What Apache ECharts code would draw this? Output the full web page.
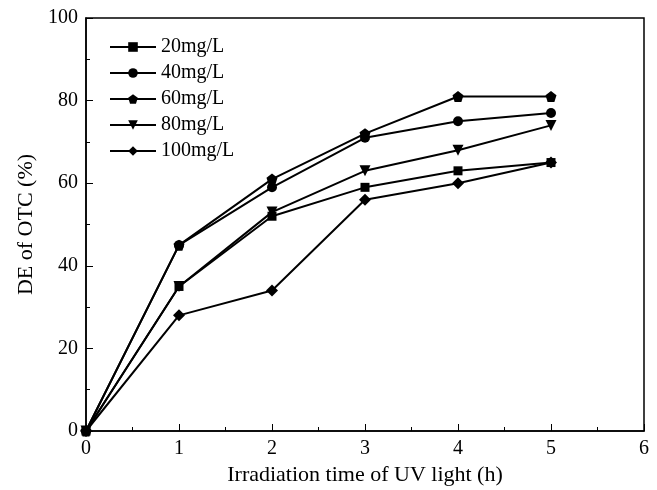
<!DOCTYPE html>
<html>
<head>
<meta charset="utf-8">
<script src="https://cdn.jsdelivr.net/npm/echarts@6/dist/echarts.min.js"></script>
<style>
  html, body { margin: 0; padding: 0; background: #fff; }
  #chart { width: 657px; height: 490px; }
</style>
</head>
<body>
<div id="chart"></div>
<script>
// irradiation time (h)
var hours = [0, 1, 2, 3, 4, 5];
var seriesNames = ['20mg/L', '40mg/L', '60mg/L', '80mg/L', '100mg/L'];
var de20 = [0, 35, 52, 59, 63, 65];
var de40 = [0, 45, 59, 71, 75, 77];
var de60 = [0, 45, 61, 72, 81, 81];
var de80 = [0, 35, 53, 63, 68, 74];
var de100 = [0, 28, 34, 56, 60, 65];

var pentagon = 'path://M0,-1 L0.951,-0.309 L0.588,0.809 L-0.588,0.809 L-0.951,-0.309 Z';
var allData = [de20, de40, de60, de80, de100];
var symbols = ['rect', 'circle', pentagon, 'triangle', 'diamond'];
var rotates = [0, 0, 0, 180, 0];
var sizes = [9, 10, 11, 11, 12];

var font = '"Liberation Serif", "DejaVu Serif", serif';

var series = seriesNames.map(function (name, i) {
    return {
        name: name,
        type: 'line',
        data: hours.map(function (h, j) { return [h, allData[i][j]]; }),
        symbol: symbols[i],
        symbolRotate: rotates[i],
        symbolSize: sizes[i],
        showAllSymbol: true,
        lineStyle: { color: '#000', width: 2 },
        itemStyle: { color: '#000' },
        animation: false
    };
});

var myChart = echarts.init(document.getElementById('chart'));
var option = {
    animation: false,
    grid: {
        left: 86, top: 18, width: 558, height: 413,
        outerBoundsMode: 'none',
        show: true, borderColor: '#000', borderWidth: 1.5
    },
    legend: {
        orient: 'vertical',
        left: 104, top: 32,
        itemWidth: 46, itemHeight: 12, itemGap: 6,
        data: seriesNames,
        textStyle: { fontFamily: font, fontSize: 20, color: '#000' }
    },
    xAxis: {
        type: 'value', min: 0, max: 6, interval: 1,
        name: 'Irradiation time of UV light (h)',
        nameLocation: 'middle', nameGap: 31,
        nameTextStyle: { fontFamily: font, fontSize: 22, color: '#000' },
        axisLine: { lineStyle: { color: '#000', width: 1.5 } },
        axisTick: { inside: true, length: 7, lineStyle: { color: '#000' } },
        minorTick: { show: true, splitNumber: 2, length: 4, lineStyle: { color: '#000' } },
        splitLine: { show: false },
        axisLabel: { fontFamily: font, fontSize: 20, color: '#000', margin: 8 }
    },
    yAxis: {
        type: 'value', min: 0, max: 100, interval: 20,
        name: 'DE of OTC (%)',
        nameLocation: 'middle', nameGap: 48,
        nameTextStyle: { fontFamily: font, fontSize: 22, color: '#000' },
        axisLine: { lineStyle: { color: '#000', width: 1.5 } },
        axisTick: { inside: true, length: 7, lineStyle: { color: '#000' } },
        minorTick: { show: true, splitNumber: 2, length: 4, lineStyle: { color: '#000' } },
        splitLine: { show: false },
        axisLabel: { fontFamily: font, fontSize: 20, color: '#000', margin: 8 }
    },
    series: series
};
myChart.setOption(option);
</script>
</body>
</html>
